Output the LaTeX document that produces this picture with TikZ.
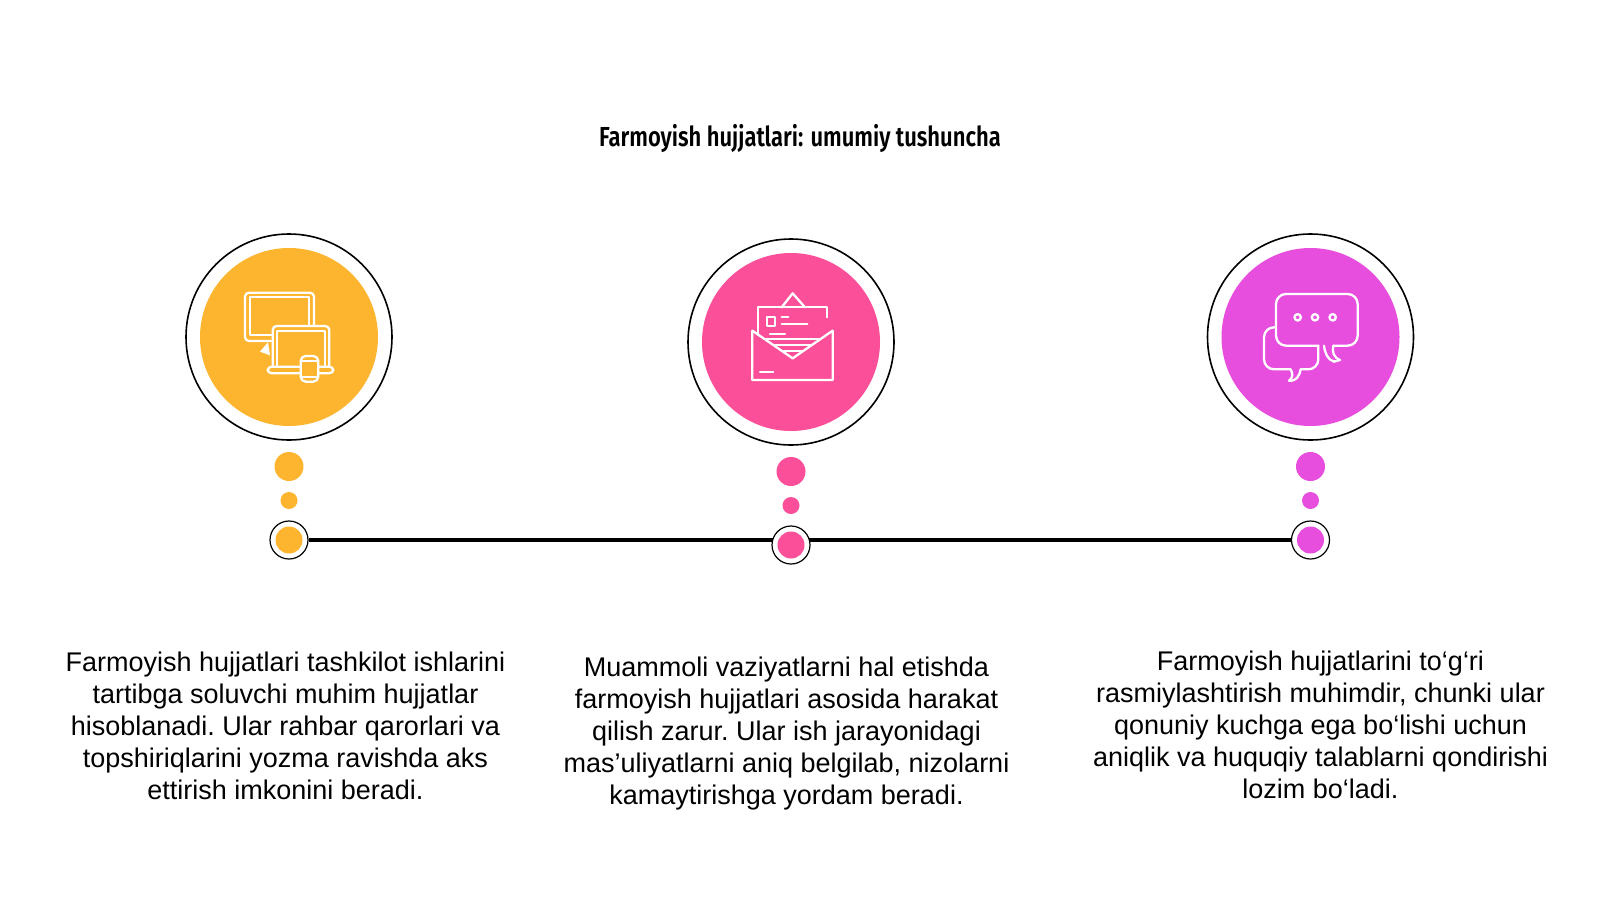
\documentclass[tikz,border=0pt]{standalone}
\usepackage{fontspec}
\setmainfont{Liberation Sans}
\newfontfamily\titlefont[FakeStretch=0.80]{Fira Sans SemiBold}
\definecolor{cyellow}{HTML}{FDB42F}
\definecolor{cpink}{HTML}{FC4F99}
\definecolor{cmag}{HTML}{E84EDE}
\tikzset{
 outerring/.style={circle,draw=black,line width=1.6pt,fill=white,minimum size=206pt,inner sep=0pt},
 disc/.style={circle,fill=#1,minimum size=178pt,inner sep=0pt},
 bigdot/.style={circle,fill=#1,minimum size=29pt,inner sep=0pt},
 smalldot/.style={circle,fill=#1,minimum size=17pt,inner sep=0pt},
 smallring/.style={circle,draw=black,line width=1.2pt,fill=white,minimum size=38pt,inner sep=0pt},
 core/.style={circle,fill=#1,minimum size=27pt,inner sep=0pt},
 bodytext/.style={align=center,font=\fontsize{27}{32}\selectfont\frenchspacing,text=black,inner sep=0pt},
 iconline/.style={draw=white,line width=2.3pt,line join=round,line cap=round},
 iconscope/.style={x=0.3333pt,y=-0.3333pt}
}
\begin{document}
\begin{tikzpicture}[x=1pt,y=-1pt]
\useasboundingbox (0,0) rectangle (1600,900);
\fill[white] (0,0) rectangle (1600,900);
\node[font=\titlefont\fontsize{27.5}{30}\selectfont,inner sep=0pt] (title) at (800,138) {Farmoyish hujjatlari: umumiy tushuncha};

% large circles
\node[outerring] (o1) at (289,337) {};
\node[disc=cyellow] (d1) at (289,337) {};
\node[outerring] (o2) at (791,342) {};
\node[disc=cpink] (d2) at (791,342) {};
\node[outerring] (o3) at (1310.5,337) {};
\node[disc=cmag] (d3) at (1310.5,337) {};

% dots
\node[bigdot=cyellow] (b1) at (289,466.5) {};
\node[smalldot=cyellow] (s1) at (289,500.5) {};
\node[bigdot=cpink] (b2) at (791,471.5) {};
\node[smalldot=cpink] (s2) at (791,505.5) {};
\node[bigdot=cmag] (b3) at (1310.5,466.5) {};
\node[smalldot=cmag] (s3) at (1310.5,500.5) {};

% timeline
\node[smallring] (r1) at (289,540) {};
\node[smallring] (r3) at (1310.5,540) {};
\draw[black,line width=3.6pt] (r1) -- (r3);
\node[smallring] (r2) at (791,545) {};
\node[core=cyellow] (c1) at (289,540) {};
\node[core=cpink] (c2) at (791,545) {};
\node[core=cmag] (c3) at (1310.5,540) {};

% texts
\node[bodytext] (t1) at (285.5,726) {Farmoyish hujjatlari tashkilot ishlarini\\tartibga soluvchi muhim hujjatlar\\hisoblanadi. Ular rahbar qarorlari va\\topshiriqlarini yozma ravishda aks\\ettirish imkonini beradi.};
\node[bodytext] (t2) at (786.5,733.5) {Muammoli vaziyatlarni hal etishda\\farmoyish hujjatlari asosida harakat\\qilish zarur. Ular ish jarayonidagi\\mas’uliyatlarni aniq belgilab, nizolarni\\kamaytirishga yordam beradi.};
\node[bodytext] (t3) at (1320.5,724.5) {Farmoyish hujjatlarini to‘g‘ri\\rasmiylashtirish muhimdir, chunki ular\\qonuniy kuchga ega bo‘lishi uchun\\aniqlik va huquqiy talablarni qondirishi\\lozim bo‘ladi.};

% icon 1
\begin{scope}[shift={(170,220)},iconscope]
 \draw[iconline,rounded corners=4pt] (432,316)--(432,218)--(225,218)--(225,363)--(303,363);
 \draw[iconline] (418,316)--(418,232)--(240,232)--(240,346)--(305,346);
 \fill[white] (270,395)--(294,367)--(300,406)--cycle;
 \draw[iconline,rounded corners=4pt] (308,436)--(308,318)--(478,318)--(478,436);
 \draw[iconline] (322,436)--(322,332)--(465,332)--(465,436);
 \draw[iconline,rounded corners=4pt] (293,440)--(490,440)--(490,460)--(293,460)--cycle;
 \draw[iconline,fill=cyellow,rounded corners=5pt] (392,408)--(445,408)--(445,485)--(392,485)--cycle;
 \draw[iconline] (392,424)--(445,424) (392,470)--(445,470);
\end{scope}

% icon 2
\begin{scope}[shift={(670,230)},iconscope]
 \draw[iconline] (265,315)--(265,232)--(472,232)--(472,262);
 \draw[iconline] (335,232)--(368,190)--(405,232);
 \draw[iconline] (290,260) rectangle (315,288);
 \draw[iconline] (335,262)--(355,262) (335,282)--(412,282) (300,313)--(345,313);
 \draw[iconline] (283,328)--(450,328) (310,346)--(425,346) (340,364)--(397,364);
 \draw[iconline] (247,302)--(247,450)--(488,450)--(488,302)--(368,385)--(247,302);
 \draw[iconline] (270,425)--(310,425);
\end{scope}

% icon 3
\begin{scope}[shift={(1190,220)},iconscope]
 \draw[iconline,rounded corners=10pt] (385,377)--(258,377)--(258,222)--(503,222)--(503,377)--(430,377);
 \draw[iconline] (402,377)..controls (405,400) and (412,418) .. (432,425);
 \draw[iconline] (430,377)..controls (426,395) and (430,412) .. (450,420);
 \draw[iconline] (432,425)--(450,420);
 \draw[iconline,rounded corners=10pt] (255,322)--(222,322)--(222,448)--(302,448);
 \draw[iconline] (302,448)..controls (310,462) and (308,474) .. (297,482);
 \draw[iconline] (297,482)..controls (318,484) and (328,470) .. (332,448);
 \draw[iconline,rounded corners=10pt] (332,448)--(385,448)--(385,377);
 \draw[iconline] (323,292) circle[radius=3.2pt] (375,292) circle[radius=3.2pt] (428,292) circle[radius=3.2pt];
\end{scope}
\end{tikzpicture}
\end{document}
